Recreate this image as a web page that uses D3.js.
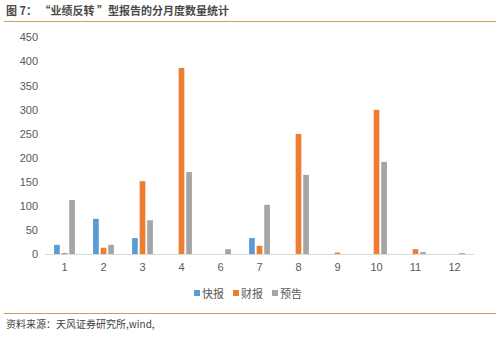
<!DOCTYPE html>
<html><head><meta charset="utf-8">
<script src="https://cdn.jsdelivr.net/npm/d3@7"></script>
<style>body{margin:0;background:#fff;}svg{display:block;}</style>
</head><body>
<script>
const categories = ["1","2","3","4","6","7","8","9","10","11","12"];
const seriesNames = ["快报","财报","预告"];
const kuaibao = [19,73,33,0,0,33,0,0,0,0,0];
const caibao  = [2,13,151,386,0,17,249,3,299,10,0];
const yugao   = [112,19,70,170,10,102,164,0,191,4,2];
const yTicks = [0,50,100,150,200,250,300,350,400,450];
const colors = ["#5B9BD5","#ED7D31","#A5A5A5"];
const seriesVals = [kuaibao, caibao, yugao];

const W=502,H=339;
const svg=d3.select("body").append("svg").attr("width",W).attr("height",H);
const font="'Noto Sans CJK SC','Microsoft YaHei',sans-serif";

svg.append("text").attr("x",6).attr("y",15).attr("font-family",font).attr("font-size",11)
  .attr("font-weight","bold").attr("fill","#4a4a4a").text("图 7： “业绩反转 ”型报告的分月度数量统计");
svg.append("line").attr("x1",4).attr("x2",496).attr("y1",21.5).attr("y2",21.5).attr("stroke","#C9A063").attr("stroke-width",1.2);

const x=d3.scaleBand().domain(categories).range([45,474]);
const y=d3.scaleLinear().domain([0,450]).range([254,37]);
const xs=d3.scaleBand().domain(seriesNames).range([0,x.bandwidth()]).paddingInner(0.25).paddingOuter(1.2);

const g=svg.append("g");
seriesNames.forEach((s,si)=>{
  g.selectAll(null).data(categories).enter().append("rect")
   .attr("x",c=>x(c)+xs(s))
   .attr("width",xs.bandwidth())
   .attr("y",(c,i)=>y(seriesVals[si][i]))
   .attr("height",(c,i)=>y(0)-y(seriesVals[si][i]))
   .attr("fill",colors[si]);
});

svg.append("line").attr("x1",45).attr("x2",474).attr("y1",y(0)+0.5).attr("y2",y(0)+0.5).attr("stroke","#D9D9D9");

const ya=svg.append("g").attr("transform","translate(38,0)").call(d3.axisLeft(y).tickValues(yTicks).tickSize(0).tickPadding(0));
ya.select(".domain").remove();
ya.selectAll("text").attr("font-family","Liberation Sans, Arial, sans-serif").attr("font-size",11).attr("fill","#595959").attr("dy","0.35em");

const xa=svg.append("g").attr("transform",`translate(0,${y(0)})`).call(d3.axisBottom(x).tickSize(0).tickPadding(9));
xa.select(".domain").remove();
xa.selectAll("text").attr("font-family","Liberation Sans, Arial, sans-serif").attr("font-size",11).attr("fill","#595959");

const legX=[194,233,272];
seriesNames.forEach((s,i)=>{
  svg.append("rect").attr("x",legX[i]).attr("y",290).attr("width",6).attr("height",6).attr("fill",colors[i]);
  svg.append("text").attr("x",legX[i]+8).attr("y",297.5).attr("font-family",font).attr("font-size",11).attr("fill","#595959").text(s);
});

svg.append("line").attr("x1",4).attr("x2",496).attr("y1",313.5).attr("y2",313.5).attr("stroke","#C9A063").attr("stroke-width",1.2);
svg.append("text").attr("x",6).attr("y",328).attr("font-family",font).attr("font-size",10).attr("fill","#404040").text("资料来源：天风证券研究所,wind,");
</script>
</body></html>
